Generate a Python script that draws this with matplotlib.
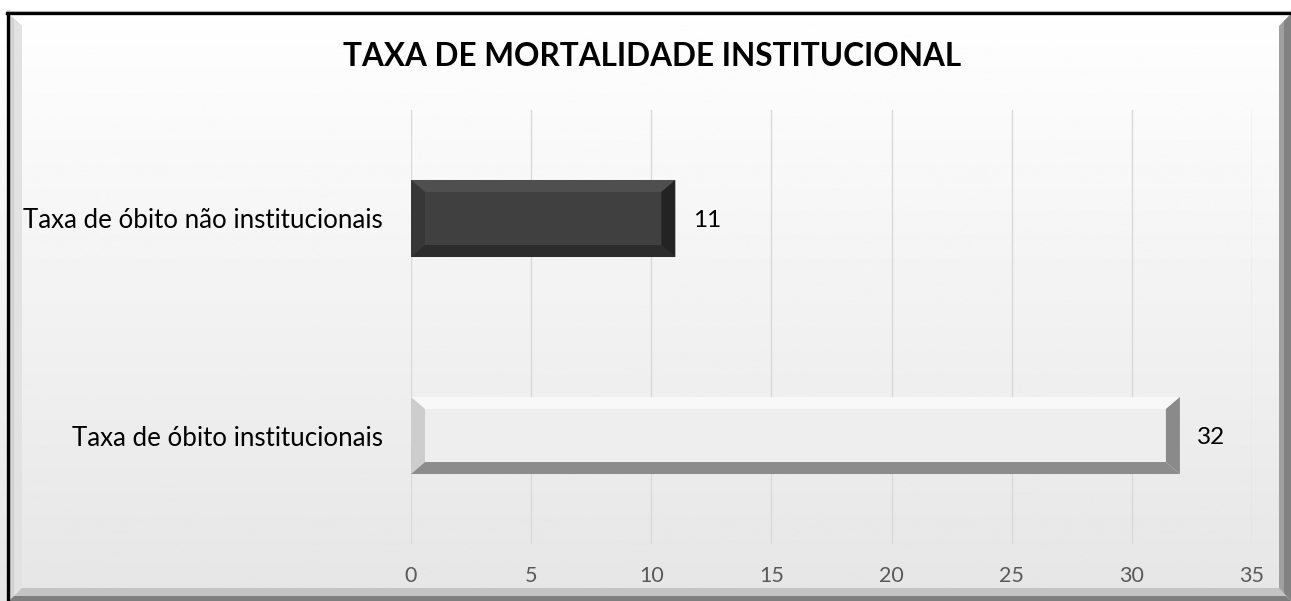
import matplotlib.pyplot as plt
import numpy as np
from matplotlib.patches import Polygon
from matplotlib.lines import Line2D

categories = ["Taxa de óbito institucionais", "Taxa de óbito não institucionais"]
values = [32, 11]
face_colors = ["#eeeeee", "#404040"]
# bevel shades: top, left, bottom, right
bevel_colors = [
    ["#f8f8f8", "#cdcdcd", "#8c8c8c", "#8a8a8a"],
    ["#4f4f4f", "#373737", "#2c2c2c", "#232323"],
]
xticks = [0, 5, 10, 15, 20, 25, 30, 35]
title = "TAXA DE MORTALIDADE INSTITUCIONAL"

plt.rcParams["font.family"] = ["Lato", "DejaVu Sans"]

W, H = 1291, 601
fig = plt.figure(figsize=(W / 100, H / 100), dpi=100)

# background gradient + frame, drawn in pixel coordinates
bg = fig.add_axes([0, 0, 1, 1], zorder=-10)
grad = np.linspace(1.0, 0.90, 256).reshape(-1, 1)
bg.imshow(grad, cmap="gray", vmin=0, vmax=1, aspect="auto", extent=[0, W, H, 0])
bg.set_xlim(0, W)
bg.set_ylim(H, 0)
bg.set_axis_off()

# inner bevel of the chart box
bg.add_patch(Polygon([(9, 14), (22, 26), (22, 588), (9, 601)], facecolor="#d2d2d2", edgecolor="none"))
bg.add_patch(Polygon([(14, 20), (22, 26), (22, 588), (14, 596)], facecolor="#e2e2e2", edgecolor="none"))
bg.add_patch(Polygon([(9, 601), (22, 588), (1279, 588), (1291, 601)], facecolor="#c4c4c4", edgecolor="none"))
bg.add_patch(Polygon([(9, 601), (14, 596), (1286, 596), (1291, 601)], facecolor="#7e7e7e", edgecolor="none"))
bg.add_patch(Polygon([(1291, 14), (1279, 26), (1279, 588), (1291, 601)], facecolor="#a0a0a0", edgecolor="none"))
bg.add_patch(Polygon([(1291, 14), (1284, 21), (1284, 593), (1291, 601)], facecolor="#828282", edgecolor="none"))
bg.add_line(Line2D([8, 8], [12, 601], color="black", linewidth=2.4))
bg.add_line(Line2D([7, 1291], [12.5, 12.5], color="black", linewidth=2.4))
bg.add_line(Line2D([7, 1291], [10.5, 10.5], color="#b0b0b0", linewidth=0.8))

ax = fig.add_axes([411 / W, 57 / H, 841 / W, 434 / H])
ax.patch.set_alpha(0)
y = np.arange(len(categories))
bh = 0.355
ax.barh(y, values, height=bh, color=face_colors, edgecolor="none", zorder=3)
ax.set_xlim(0, 35)
ax.set_ylim(-0.5, 1.5)

# bevel edges, size in pixels converted to data units
px_x = 841 / 35.0
px_y = 434 / 2.0
bx = 14 / px_x
by = 12 / px_y
for yi, v, cols in zip(y, values, bevel_colors):
    x0, x1 = 0, v
    y0, y1 = yi - bh / 2, yi + bh / 2
    top = [(x0, y1), (x1, y1), (x1 - bx, y1 - by), (x0 + bx, y1 - by)]
    left = [(x0, y0), (x0, y1), (x0 + bx, y1 - by), (x0 + bx, y0 + by)]
    bottom = [(x0, y0), (x1, y0), (x1 - bx, y0 + by), (x0 + bx, y0 + by)]
    right = [(x1, y0), (x1, y1), (x1 - bx, y1 - by), (x1 - bx, y0 + by)]
    for poly, c in zip([top, left, bottom, right], cols):
        ax.add_patch(Polygon(poly, closed=True, facecolor=c, edgecolor="none", zorder=4))
    ax.text(v + 0.72, yi, str(v), va="center_baseline", ha="left", fontsize=17.5, color="black")

ax.set_xticks(xticks)
ax.set_yticks(y)
ax.set_yticklabels(categories, fontsize=18.6, color="black")
ax.tick_params(axis="x", length=0, pad=16, labelsize=15.5, labelcolor="#595959")
ax.tick_params(axis="y", length=0, pad=20)
ax.grid(axis="x", color="#d9d9d9", linewidth=1, zorder=0)
for s in ax.spines.values():
    s.set_visible(False)

fig.text(652 / W, 1 - 57 / H, title, ha="center", va="center", fontsize=22.7, fontweight="bold")

fig.savefig("out.png", dpi=100)
